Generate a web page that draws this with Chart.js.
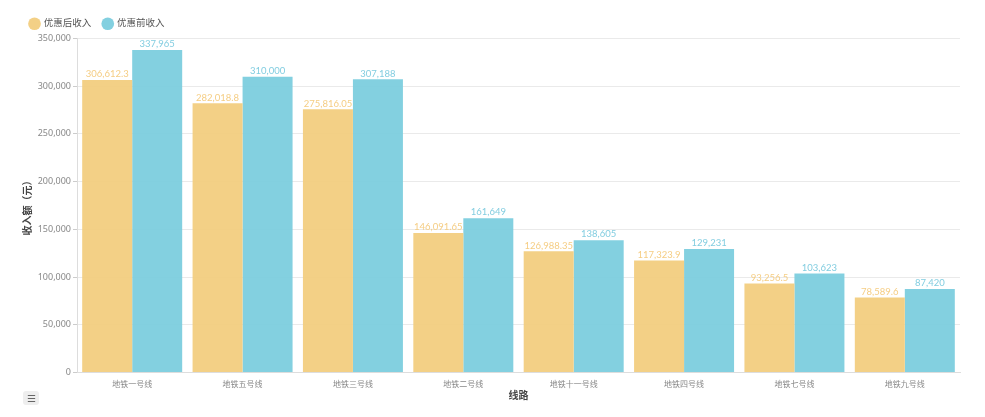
<!DOCTYPE html>
<html>
<head>
<meta charset="utf-8">
<script src="https://cdn.jsdelivr.net/npm/chart.js@4"></script>
<style>
  html, body { margin: 0; padding: 0; background: #fff; }
  #wrap { position: relative; width: 985px; height: 417px; }
  #tool { position: absolute; left: 23px; top: 391px; width: 16px; height: 14px; background: #eee; border-radius: 3px;
          font: 10px "Noto Sans CJK SC", sans-serif; color: #666; text-align: center; line-height: 14px; }
</style>
</head>
<body>
<div id="wrap">
  <canvas id="myChart" width="985" height="417"></canvas>
  <div id="tool">☰</div>
</div>
<script>
const lines = ['地铁一号线', '地铁五号线', '地铁三号线', '地铁二号线', '地铁十一号线', '地铁四号线', '地铁七号线', '地铁九号线'];
const afterDiscount = [306612.3, 282018.8, 275816.05, 146091.65, 126988.35, 117323.9, 93256.5, 78589.6];
const beforeDiscount = [337965, 310000, 307188, 161649, 138605, 129231, 103623, 87420];

const fontFamily = '"Noto Sans", "Noto Sans CJK SC", sans-serif';
const yellow = 'rgba(242, 206, 128, 0.95)';
const blue = 'rgba(124, 205, 222, 0.95)';

// value labels on top of each bar
const topLabels = {
  id: 'topLabels',
  afterDatasetsDraw(chart) {
    const c = chart.ctx;
    c.save();
    c.font = '9.5px Lato, sans-serif';
    c.textAlign = 'center';
    c.textBaseline = 'bottom';
    chart.data.datasets.forEach((ds, i) => {
      c.fillStyle = ds.labelColor;
      chart.getDatasetMeta(i).data.forEach((bar, j) => {
        const txt = ds.data[j].toLocaleString('en-US', { maximumFractionDigits: 2 });
        c.fillText(txt, bar.x, bar.y - 1);
      });
    });
    c.restore();
  }
};

const ctx = document.getElementById('myChart');

new Chart(ctx, {
  type: 'bar',
  data: {
    labels: lines,
    datasets: [{
      label: '优惠后收入',
      data: afterDiscount,
      backgroundColor: yellow,
      labelColor: '#f5cd83',
      borderWidth: 0
    }, {
      label: '优惠前收入',
      data: beforeDiscount,
      backgroundColor: blue,
      labelColor: '#82cde0',
      borderWidth: 0
    }]
  },
  plugins: [topLabels],
  options: {
    responsive: false,
    animation: false,
    layout: { padding: { left: 18, right: 25, top: 7, bottom: 15 } },
    datasets: {
      bar: { categoryPercentage: 0.906, barPercentage: 1 }
    },
    plugins: {
      legend: {
        position: 'top',
        align: 'start',
        labels: {
          usePointStyle: true,
          pointStyle: 'circle',
          boxWidth: 9,
          boxHeight: 9,
          padding: 12,
          color: '#555',
          font: { size: 9.5, family: fontFamily }
        }
      },
      tooltip: { enabled: false }
    },
    scales: {
      x: {
        grid: { display: false, drawTicks: true },
        border: { color: '#ddd' },
        ticks: { color: '#888', font: { size: 8, family: fontFamily }, padding: 0 },
        title: { display: true, text: '线路', color: '#444', font: { size: 10, weight: 'bold', family: fontFamily }, padding: { top: 0, bottom: 0 } }
      },
      y: {
        min: 0,
        max: 350000,
        afterFit(scale) { scale.width = 59; },
        grid: { color: '#eaeaea', tickLength: 4, tickColor: '#ccc' },
        border: { color: '#ddd' },
        ticks: {
          stepSize: 50000,
          color: '#888',
          font: { size: 9, family: fontFamily },
          padding: 2,
          callback: v => v.toLocaleString('en-US')
        },
        title: { display: true, text: '收入额（元）', color: '#444', font: { size: 10, weight: 'bold', family: fontFamily } }
      }
    }
  }
});
</script>
</body>
</html>
